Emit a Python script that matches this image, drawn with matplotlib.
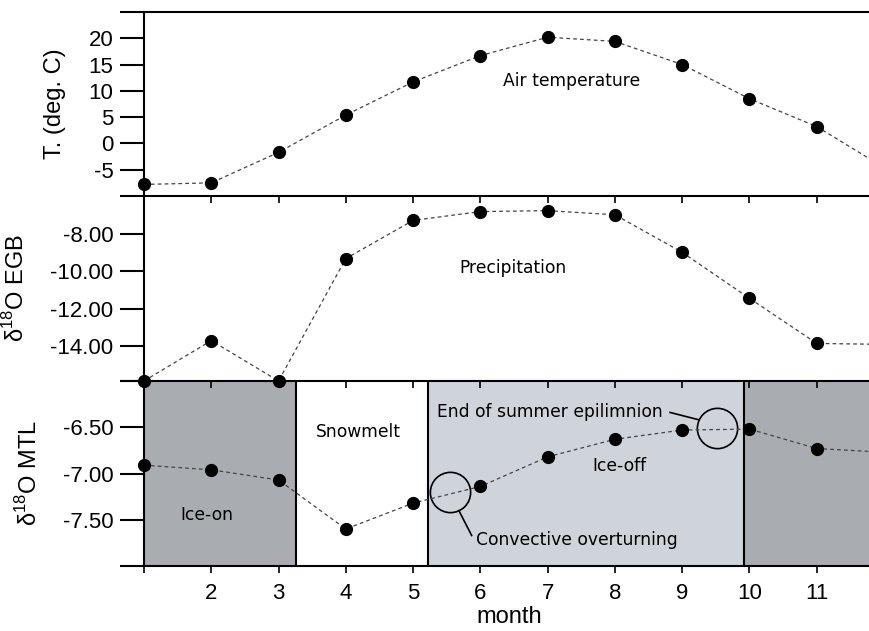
import numpy as np
import matplotlib
matplotlib.use('Agg')
import matplotlib.pyplot as plt
from matplotlib.ticker import FormatStrFormatter

plt.rcParams['axes.unicode_minus'] = False

# monthly means
months    = [1, 2, 3, 4, 5, 6, 7, 8, 9, 10, 11, 12]
air_temp  = [-7.8, -7.5, -1.7, 5.4, 11.7, 16.7, 20.2, 19.4, 15.0, 8.5, 3.2, -4.6]
d18o_egb  = [-15.85, -13.7, -15.85, -9.33, -7.3, -6.83, -6.78, -7.0, -9.0, -11.45, -13.85, -13.9]
d18o_mtl  = [-6.91, -6.96, -7.07, -7.60, -7.32, -7.14, -6.82, -6.63, -6.53, -6.52, -6.73, -6.77]

# lake seasons (start, end, colour)
seasons   = [(1.0, 3.26, '#a9adb1'), (5.22, 9.92, '#cfd3da'), (9.92, 12.5, '#a9adb1')]
borders   = [3.26, 5.22, 9.92]

xmax = 11.85
tick_font = dict(family='Liberation Sans', size=16)
note_font = dict(family='DejaVu Sans', size=12.3)

fig = plt.figure(figsize=(8.69, 6.31), dpi=100)
ax3 = fig.add_axes([0.1657, 0.1030, 0.84, 0.2932], zorder=1)
ax2 = fig.add_axes([0.1657, 0.3962, 0.84, 0.2932], zorder=2)
ax1 = fig.add_axes([0.1657, 0.6894, 0.84, 0.2916], zorder=3)

def style_axis(ax, ylim, yticks, fmt, label, labelx):
    ax.patch.set_visible(False)
    ax.set_xlim(1, xmax)
    ax.set_ylim(*ylim)
    ax.spines['right'].set_visible(False)
    ax.spines['top'].set_visible(False)
    for s in ['left', 'bottom']:
        ax.spines[s].set_linewidth(1.5)
    ax.set_xticks(range(1, 12))
    ax.set_xticklabels([])
    ax.tick_params(axis='x', direction='out', length=5, width=1.2)
    ax.set_yticks(yticks)
    ax.set_yticks(list(ylim), minor=True)
    if fmt:
        ax.yaxis.set_major_formatter(FormatStrFormatter(fmt))
    ax.tick_params(axis='y', which='both', direction='out', length=17, width=1.5, pad=5)
    for t in ax.get_yticklabels():
        t.set_fontfamily(tick_font['family'])
        t.set_fontsize(tick_font['size'])
    ax.set_ylabel(label, fontfamily='Liberation Sans', fontsize=17)
    ax.yaxis.set_label_coords(labelx, 0.5)

def series(ax, y):
    ax.plot(months, y, color='#444444', lw=0.9, ls=(0, (3, 2.5)),
            marker='o', ms=8.5, mfc='black', mec='black', clip_on=False, zorder=5)

# air temperature
style_axis(ax1, (-10, 25), [-5, 0, 5, 10, 15, 20], None, 'T. (deg. C)', -0.107)
ax1.spines['top'].set_visible(True)
ax1.spines['top'].set_linewidth(1.5)
ax1.set_yticks([25], minor=True)
series(ax1, air_temp)
ax1.text(7.35, 11.9, 'Air temperature', ha='center', va='center', **note_font)

# precipitation
style_axis(ax2, (-15.85, -6.0), [-14, -12, -10, -8], '%.2f', 'δ$^{\\mathregular{18}}$O EGB', -0.158)
series(ax2, d18o_egb)
ax2.text(6.48, -9.86, 'Precipitation', ha='center', va='center', **note_font)

# lake water
style_axis(ax3, (-8.0, -6.0), [-7.5, -7.0, -6.5], '%.2f', 'δ$^{\\mathregular{18}}$O MTL', -0.14)
for x0, x1, c in seasons:
    ax3.axvspan(x0, x1, color=c, lw=0, zorder=0)
for b in borders:
    ax3.axvline(b, color='black', lw=1.5, zorder=1)
ax3.set_xticklabels([''] + [str(m) for m in range(2, 12)])
for t in ax3.get_xticklabels():
    t.set_fontfamily(tick_font['family'])
    t.set_fontsize(tick_font['size'])
ax3.tick_params(axis='x', pad=7)
ax3.set_xlabel('month', fontfamily='Liberation Sans', fontsize=17, labelpad=2)
series(ax3, d18o_mtl)

# circled features
ax3.plot([5.55, 9.52], [-7.20, -6.51], ls='none', marker='o', ms=29,
         mfc='none', mec='black', mew=1.2, zorder=4)
ax3.text(4.19, -6.55, 'Snowmelt', ha='center', va='center', **note_font)
ax3.text(1.94, -7.45, 'Ice-on', ha='center', va='center', **note_font)
ax3.text(8.07, -6.92, 'Ice-off', ha='center', va='center', **note_font)
ax3.text(5.36, -6.33, 'End of summer epilimnion', ha='left', va='center', **note_font)
ax3.plot([8.82, 9.25], [-6.34, -6.42], color='black', lw=1.2, zorder=4)
ax3.text(5.93, -7.72, 'Convective overturning', ha='left', va='center', **note_font)
ax3.plot([5.68, 5.87], [-7.40, -7.67], color='black', lw=1.2, zorder=4)

plt.savefig('out.png', dpi=100)
